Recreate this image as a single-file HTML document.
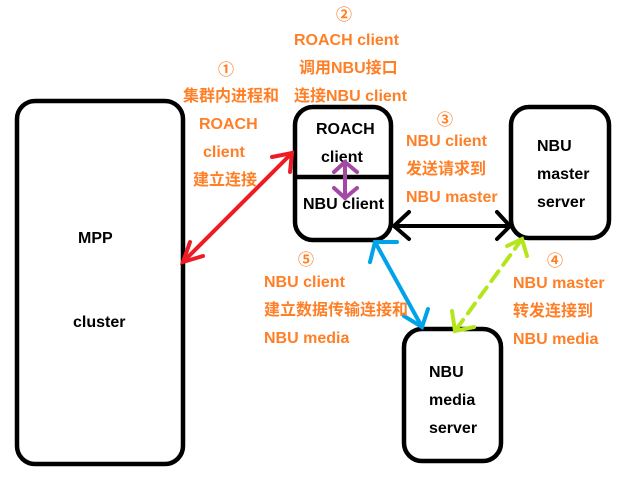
<!DOCTYPE html>
<html><head><meta charset="utf-8"><style>
html,body{margin:0;padding:0;background:#fff;}
svg{display:block;}
.o{fill:#ff7f27;font-family:"Liberation Sans","Noto Sans CJK SC",sans-serif;font-weight:bold;font-size:16px;}
.k{fill:#000;font-family:"Liberation Sans","Noto Sans CJK SC",sans-serif;font-weight:bold;font-size:16px;}
</style></head><body>
<svg width="622" height="480" viewBox="0 0 622 480" xmlns="http://www.w3.org/2000/svg">
<g fill="none" stroke="#000" stroke-width="4.5">
<rect x="17" y="101" width="166" height="363" rx="18"/>
<rect x="295" y="107" width="96" height="133" rx="18"/>
<line x1="295" y1="177" x2="391" y2="177"/>
<rect x="511" y="107" width="98" height="131" rx="18"/>
<rect x="404" y="329" width="97" height="132" rx="18"/>
</g>
<text class="k" x="78" y="243">MPP</text>
<text class="k" x="73" y="327">cluster</text>
<text class="k" x="316" y="134">ROACH</text>
<text class="k" x="321" y="162">client</text>
<text class="k" x="303" y="209">NBU client</text>
<text class="k" x="537" y="151">NBU</text>
<text class="k" x="537" y="179">master</text>
<text class="k" x="537" y="207">server</text>
<text class="k" x="429" y="377">NBU</text>
<text class="k" x="429" y="405">media</text>
<text class="k" x="429" y="433">server</text>
<!-- red -->
<g stroke="#ed1c24" stroke-width="4" stroke-linecap="round" fill="none">
<line x1="183" y1="262" x2="292" y2="153"/>
<polyline points="272,157 292,153 290,172"/>
<polyline points="190,242 183,262 203,256"/>
</g>
<!-- black -->
<g stroke="#000" stroke-width="4" stroke-linecap="round" fill="none">
<line x1="394" y1="226" x2="510" y2="226"/>
<polyline points="409,212 394,226 409,239"/>
<polyline points="497,212 510,226 497,239"/>
</g>
<!-- purple -->
<g stroke="#a349a4" stroke-width="4" stroke-linecap="round" fill="none">
<line x1="345" y1="162" x2="345" y2="198"/>
<polyline points="334,172 345,162 357,172"/>
<polyline points="334,188 345,198 357,188"/>
</g>
<!-- blue -->
<g stroke="#00a2e8" stroke-width="4" stroke-linecap="round" fill="none">
<line x1="375" y1="242" x2="422" y2="327"/>
<polyline points="370,262 375,242 397,242"/>
<polyline points="404,316 422,327 428,309"/>
</g>
<!-- green dashed -->
<g stroke="#b5e61d" stroke-width="4" stroke-linecap="round" fill="none">
<line x1="522" y1="239" x2="455" y2="331" stroke-dasharray="12,8"/>
<polyline points="507,246 522,239 527,256"/>
<polyline points="452,311 455,331 474,327"/>
</g>
<!-- labels -->
<text class="o" x="218" y="75">①</text>
<text class="o" x="183" y="101">集群内进程和</text>
<text class="o" x="199" y="129">ROACH</text>
<text class="o" x="203" y="157">client</text>
<text class="o" x="193" y="185">建立连接</text>
<text class="o" x="336" y="20">②</text>
<text class="o" x="294" y="45">ROACH client</text>
<text class="o" x="299" y="73">调用NBU接口</text>
<text class="o" x="294" y="101">连接NBU client</text>
<text class="o" x="437" y="125">③</text>
<text class="o" x="406" y="146">NBU client</text>
<text class="o" x="406" y="174">发送请求到</text>
<text class="o" x="406" y="202">NBU master</text>
<text class="o" x="547" y="266">④</text>
<text class="o" x="513" y="288">NBU master</text>
<text class="o" x="513" y="316">转发连接到</text>
<text class="o" x="513" y="344">NBU media</text>
<text class="o" x="298" y="265">⑤</text>
<text class="o" x="264" y="287">NBU client</text>
<text class="o" x="264" y="315">建立数据传输连接和</text>
<text class="o" x="264" y="343">NBU media</text>
</svg>
</body></html>
